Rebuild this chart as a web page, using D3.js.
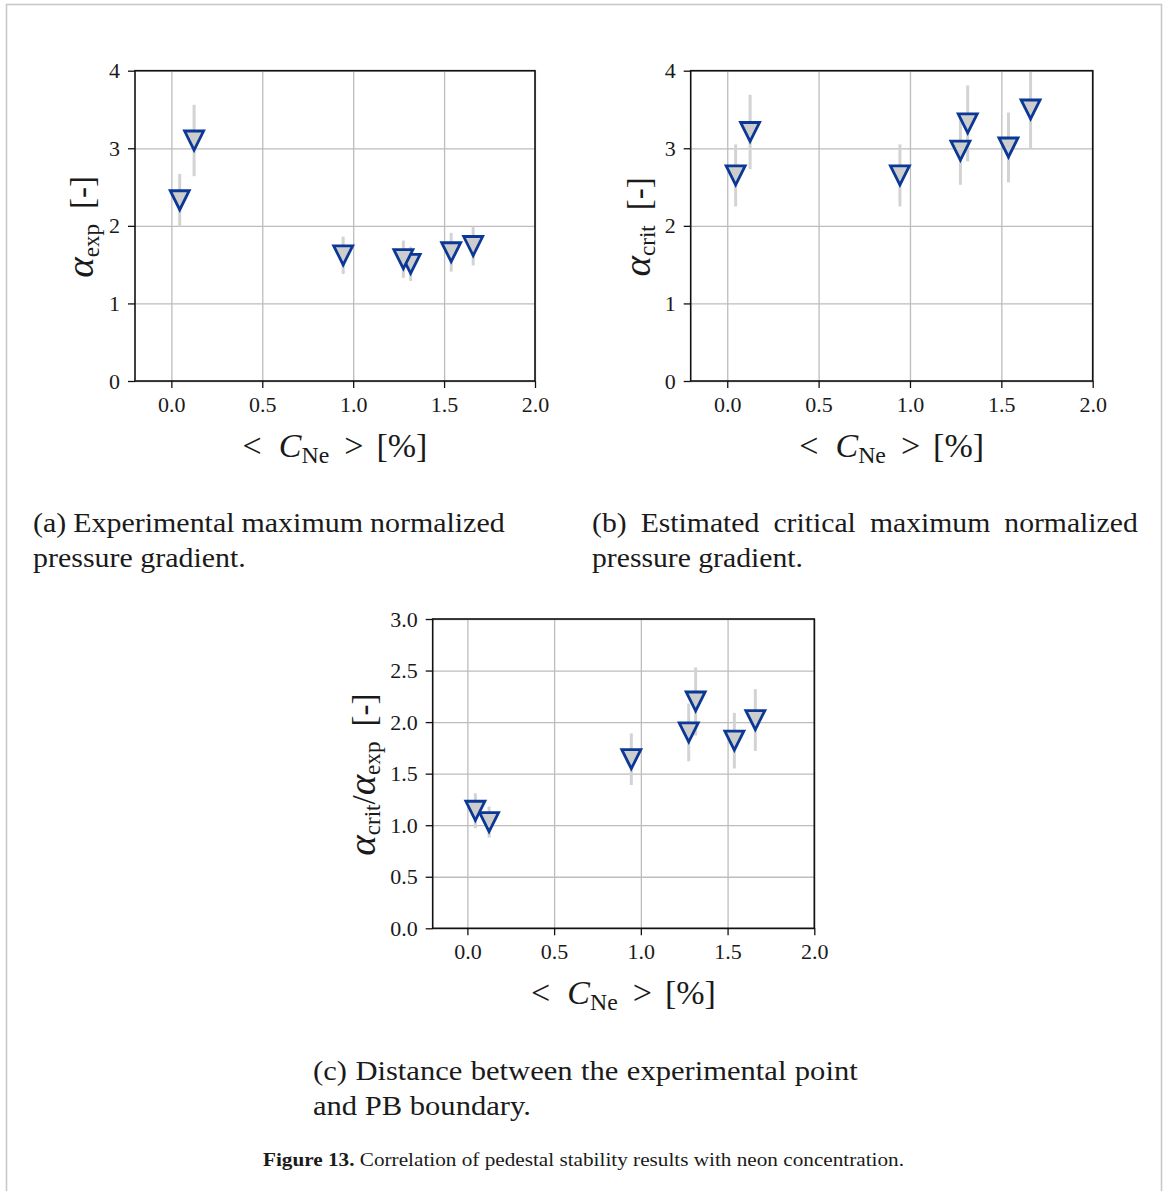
<!DOCTYPE html>
<html>
<head>
<meta charset="utf-8">
<script src="https://cdn.jsdelivr.net/npm/d3@7"></script>
<style>
  html, body { margin: 0; padding: 0; background: #fff; }
  svg { display: block; }
  text { font-family: "Liberation Serif", "DejaVu Serif", serif; fill: #1a1a1a; }
</style>
</head>
<body>
<svg id="fig" width="1168" height="1191"></svg>
<script>
// Mean neon concentration <C_Ne> [%] for each discharge
const cNe = [0.046, 0.125, 0.945, 1.276, 1.316, 1.539, 1.66];

// (a) experimental maximum normalized pressure gradient and its uncertainty
const alphaExp    = [2.33, 3.10, 1.62, 1.57, 1.51, 1.66, 1.74];
const alphaExpErr = [0.34, 0.46, 0.24, 0.24, 0.22, 0.25, 0.25];

// (b) estimated critical maximum normalized pressure gradient
const alphaCrit    = [2.65, 3.21, 2.65, 2.97, 3.32, 3.01, 3.50];
const alphaCritErr = [0.40, 0.48, 0.40, 0.44, 0.49, 0.45, 0.50];

// (c) distance to the peeling-ballooning boundary
const ratio    = [1.14, 1.03, 1.64, 1.90, 2.20, 1.82, 2.02];
const ratioErr = [0.17, 0.15, 0.25, 0.28, 0.33, 0.27, 0.30];

// Axis ticks
const xTicks   = [0, 0.5, 1.0, 1.5, 2.0];
const yTicksAB = [0, 1, 2, 3, 4];
const yTicksC  = [0, 0.5, 1.0, 1.5, 2.0, 2.5, 3.0];

// Axis label pieces: [text, kind, gap before] where kind is "a" (alpha), "i" (italic), "sub" or ""
const xLabelParts = [["<", "", 0], ["C", "i", 17], ["Ne", "sub", 0], [">", "", 15], ["[%]", "", 13]];
const yLabelA     = [["α", "a", 0], ["exp", "sub", 0], ["[-]", "", 15]];
const yLabelB     = [["α", "a", 0], ["crit", "sub", 0], ["[-]", "", 15]];
const yLabelC     = [["α", "a", 0], ["crit", "sub", 0], ["/", "", 0], ["α", "a", 0], ["exp", "sub", 0], ["[-]", "", 15]];

// Sub-figure captions (first line justified, second line natural)
const captionA = ["(a) Experimental maximum normalized", "pressure gradient."];
const captionB = ["(b) Estimated critical maximum normalized", "pressure gradient."];
const captionC = ["(c) Distance between the experimental point", "and PB boundary."];
const figLabel = "Figure 13.";
const figText  = " Correlation of pedestal stability results with neon concentration.";

const SERIF = '"Liberation Serif", "DejaVu Serif", serif';
const svg = d3.select("#fig");

svg.append("rect").attr("width", 1168).attr("height", 1191).attr("fill", "#fff");
// page frame
svg.append("rect")
  .attr("x", 6.5).attr("y", 4.5).attr("width", 1155).attr("height", 1260)
  .attr("fill", "none").attr("stroke", "#c8c8c8").attr("stroke-width", 1.6);

const xDomain = [-0.2, 2.0];
const markerPath = "M0,9.5 L-9.5,-9.5 L9.5,-9.5 Z";   // downward triangle centred on the point

function addParts(textSel, parts, baseSize) {
  let shifted = false;
  const drop = baseSize * 0.17;
  parts.forEach(([t, kind, gap]) => {
    const ts = textSel.append("tspan").text(t);
    if (gap) ts.attr("dx", gap);
    if (kind === "sub") {
      ts.attr("font-size", baseSize * 0.7).attr("dy", drop);
      shifted = true;
    } else {
      if (shifted) { ts.attr("dy", -drop); shifted = false; }
      if (kind === "i") ts.attr("font-style", "italic");
      if (kind === "a") ts.attr("font-style", "italic").attr("font-size", baseSize * 1.18);
    }
  });
}

function drawPanel(p) {
  const g = svg.append("g").attr("transform", `translate(${p.left},${p.top})`);
  const x = d3.scaleLinear().domain(xDomain).range([0, p.width]);
  const y = d3.scaleLinear().domain(p.yDomain).range([p.height, 0]);

  // grid lines
  const gx = g.append("g").attr("transform", `translate(0,${p.height})`)
    .call(d3.axisBottom(x).tickValues(xTicks).tickSize(-p.height).tickFormat(""));
  const gy = g.append("g")
    .call(d3.axisLeft(y).tickValues(p.yTicks).tickSize(-p.width).tickFormat(""));
  [gx, gy].forEach(a => {
    a.select(".domain").remove();
    a.selectAll("line").attr("stroke", "#bdbdbd").attr("stroke-width", 1.3);
  });

  const pts = cNe.map((c, i) => ({ x: c, y: p.values[i], e: p.errors[i] }));

  // error bars
  g.append("g").selectAll("line").data(pts).join("line")
    .attr("x1", d => x(d.x)).attr("x2", d => x(d.x))
    .attr("y1", d => y(d.y - d.e)).attr("y2", d => y(d.y + d.e))
    .attr("stroke", "#d3d3d3").attr("stroke-width", 3);

  // markers (lower concentrations end up on top)
  g.append("g").selectAll("path").data(pts.slice().reverse()).join("path")
    .attr("d", markerPath)
    .attr("transform", d => `translate(${x(d.x)},${y(d.y)})`)
    .attr("fill", "#cdcdcd").attr("stroke", "#0b3796")
    .attr("stroke-width", 2.8).attr("stroke-linejoin", "miter");

  // axes box
  g.append("rect").attr("width", p.width).attr("height", p.height)
    .attr("fill", "none").attr("stroke", "#111").attr("stroke-width", 1.6);

  // ticks and tick labels
  const xa = g.append("g").attr("transform", `translate(0,${p.height})`)
    .call(d3.axisBottom(x).tickValues(xTicks).tickFormat(d3.format(".1f"))
      .tickSize(7).tickPadding(8).tickSizeOuter(0));
  const ya = g.append("g")
    .call(d3.axisLeft(y).tickValues(p.yTicks).tickFormat(p.fmt)
      .tickSize(7).tickPadding(8).tickSizeOuter(0));
  [xa, ya].forEach(a => {
    a.select(".domain").remove();
    a.selectAll("line").attr("stroke", "#111").attr("stroke-width", 1.3);
    a.selectAll("text").attr("font-family", SERIF).attr("font-size", 22).attr("fill", "#222");
  });

  // x label
  const xl = g.append("text")
    .attr("x", p.width / 2).attr("y", p.height + 76)
    .attr("text-anchor", "middle").attr("font-size", 34);
  addParts(xl, xLabelParts, 34);

  // y label
  const yl = g.append("text")
    .attr("transform", `translate(${p.ylabelOffset},${p.height / 2 + 1}) rotate(-90)`)
    .attr("text-anchor", "middle").attr("font-size", 33);
  addParts(yl, p.ylabel, 33);
}

drawPanel({ left: 135, top: 70.7, width: 400, height: 310.3,
  values: alphaExp, errors: alphaExpErr, yDomain: [0, 4], yTicks: yTicksAB,
  fmt: d3.format("d"), ylabel: yLabelA, ylabelOffset: -42 });

drawPanel({ left: 690.7, top: 70.7, width: 402, height: 310.3,
  values: alphaCrit, errors: alphaCritErr, yDomain: [0, 4], yTicks: yTicksAB,
  fmt: d3.format("d"), ylabel: yLabelB, ylabelOffset: -41 });

drawPanel({ left: 432.7, top: 619, width: 381.6, height: 309.3,
  values: ratio, errors: ratioErr, yDomain: [0, 3], yTicks: yTicksC,
  fmt: d3.format(".1f"), ylabel: yLabelC, ylabelOffset: -58 });

// sub-figure captions: glyphs widened slightly, first line justified to the column
function caption(lines, x0, y0, widths) {
  const fs = 27;
  const probe = lines.map(t => {
    const el = svg.append("text").attr("font-size", fs).text(t);
    const w = el.node().getComputedTextLength();
    el.remove();
    return w;
  });
  const s = widths[1] / probe[1];            // horizontal glyph stretch
  lines.forEach((t, i) => {
    const el = svg.append("text")
      .attr("transform", `translate(${x0},${y0 + i * 35}) scale(${s},1)`)
      .attr("font-size", fs)
      .style("white-space", "pre")
      .text(t);
    if (i === 0) {
      const nSpaces = (t.match(/ /g) || []).length;
      const extra = (widths[0] / s - probe[0]) / nSpaces;
      el.attr("word-spacing", extra);
    }
  });
}
caption(captionA, 33, 532, [472, 213]);
caption(captionB, 592, 532, [546, 211]);
caption(captionC, 313, 1080, [545, 218]);

// figure caption
const fc = svg.append("text")
  .attr("x", 263).attr("y", 1166)
  .attr("font-size", 19.5)
  .attr("textLength", 641).attr("lengthAdjust", "spacingAndGlyphs");
fc.append("tspan").attr("font-weight", "bold").text(figLabel);
fc.append("tspan").text(figText);
</script>
</body>
</html>
